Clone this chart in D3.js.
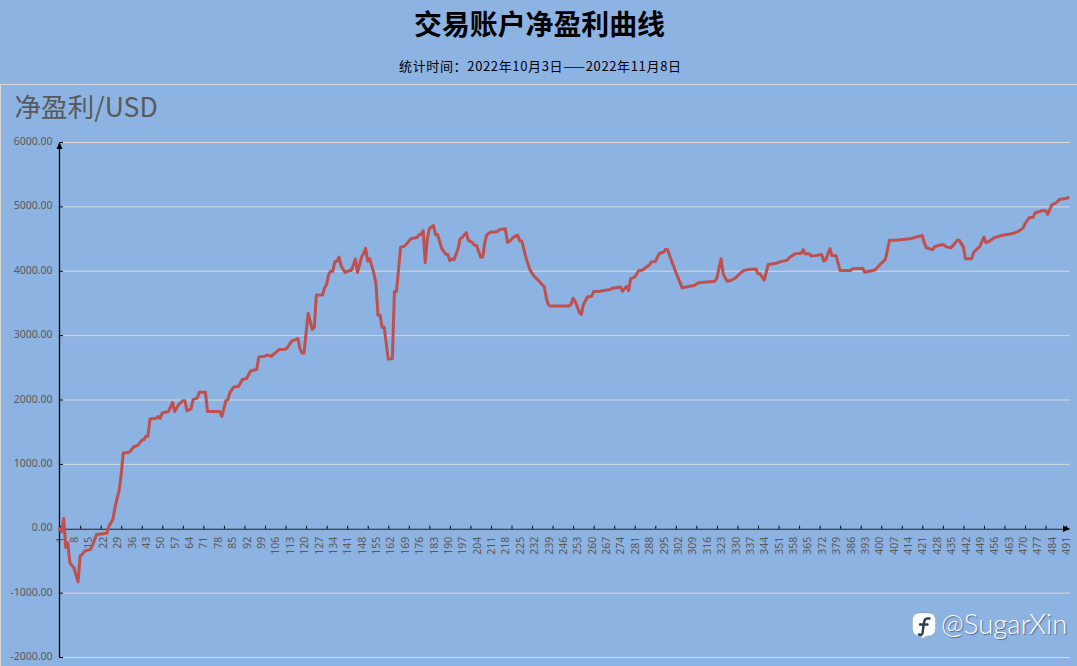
<!DOCTYPE html>
<html><head><meta charset="utf-8">
<script src="https://cdnjs.cloudflare.com/ajax/libs/d3/7.8.5/d3.min.js"></script>
<style>
html,body{margin:0;padding:0;background:#8DB3E2;overflow:hidden}
svg{display:block}
text{font-family:"Noto Sans CJK SC","Noto Sans",sans-serif}
</style></head><body>
<svg id="c" width="1077" height="666"></svg>
<script>
const titleText = "交易账户净盈利曲线";
const subtitleText = "统计时间：2022年10月3日——2022年11月8日";
const axisTitle = "净盈利/USD";
const watermark = "@SugarXin";
const yTicks = [-2000,-1000,0,1000,2000,3000,4000,5000,6000];
const tradeIndex = [1,2,3,4,5,6,8,10,11,12,13,16,17,19,24,25,27,28,30,31,32,35,37,39,41,42,43,44,45,48,49,50,51,54,56,57,59,61,62,63,65,66,68,69,72,73,79,80,82,83,84,86,88,90,92,94,97,98,101,102,104,108,111,112,114,117,118,119,120,122,124,125,126,129,130,131,132,133,134,135,136,137,138,140,142,143,145,146,148,149,150,151,152,154,155,156,157,158,159,161,163,164,165,167,169,172,175,176,177,178,179,180,181,183,184,185,187,189,190,191,192,193,195,196,197,199,200,202,203,204,206,207,208,209,211,214,215,218,219,220,222,224,225,226,228,230,232,234,237,238,239,240,249,250,251,252,254,255,256,258,260,261,264,266,269,270,274,275,277,278,279,281,283,285,287,288,289,291,293,295,296,297,298,301,304,306,310,312,320,321,323,324,326,328,330,332,334,337,340,341,342,344,346,350,352,355,357,359,362,363,364,366,367,372,373,374,376,377,379,381,386,387,392,393,398,400,402,403,405,408,415,421,422,423,426,427,431,433,435,438,439,441,442,445,446,449,451,452,453,456,459,465,468,470,471,473,475,476,477,479,481,482,484,486,488,491,492];
const netProfit = [0,-50,160,-290,-220,-530,-610,-825,-420,-400,-350,-320,-260,-90,-70,40,150,340,600,850,1177,1190,1270,1295,1375,1385,1435,1435,1705,1715,1745,1715,1800,1820,1965,1820,1930,1990,1990,1830,1865,2010,2030,2120,2120,1820,1820,1745,1990,2010,2125,2205,2210,2320,2335,2450,2475,2670,2680,2700,2680,2785,2790,2820,2915,2955,2800,2730,2730,3345,3095,3130,3630,3630,3745,3795,3950,4000,4000,4150,4155,4220,4090,3980,4010,4010,4190,3980,4220,4275,4355,4155,4195,3965,3815,3315,3315,3130,3130,2635,2645,3685,3685,4375,4390,4505,4525,4570,4570,4630,4135,4505,4660,4710,4570,4570,4355,4265,4260,4165,4190,4180,4355,4505,4525,4600,4480,4445,4405,4400,4220,4220,4450,4570,4610,4615,4645,4660,4450,4465,4530,4560,4470,4470,4215,4020,3925,3860,3755,3575,3475,3460,3460,3485,3580,3535,3365,3330,3485,3600,3610,3685,3690,3700,3715,3735,3755,3690,3765,3700,3885,3910,4010,4020,4075,4090,4145,4150,4280,4295,4340,4335,4240,3985,3745,3755,3780,3820,3845,3900,4195,3960,3845,3860,3895,3960,4010,4030,4035,3960,3960,3860,4105,4125,4150,4170,4230,4270,4280,4335,4270,4270,4235,4260,4160,4180,4350,4245,4240,4010,4010,4040,4045,3985,4020,4090,4155,4180,4480,4480,4505,4555,4435,4365,4335,4385,4415,4375,4365,4480,4480,4375,4195,4195,4295,4385,4530,4445,4455,4520,4550,4585,4625,4670,4740,4830,4840,4910,4915,4940,4945,4885,5030,5060,5120,5130,5145];
const labelEvery = 7, tickEvery = 10, lastLabel = 491, lastIndex = 492.4;

const svg = d3.select("#c");
const x = d3.scaleLinear().domain([1,lastIndex]).range([59.6,1069]);
const y = d3.scaleLinear().domain([-2000,6000]).range([657.5,142.5]);

svg.append("rect").attr("width",1077).attr("height",666).attr("fill","#8DB3E2");
svg.append("path").attr("d","M0.5,666V84.5H1077").attr("fill","none").attr("stroke","#d9d9d9").attr("stroke-width",1);

svg.append("text").attr("x",539.5).attr("y",35).attr("text-anchor","middle")
  .attr("font-size",27.9).attr("font-weight",700).attr("fill","#000").text(titleText);
svg.append("text").attr("x",399).attr("y",70.5)
  .attr("font-size",13).attr("textLength",282).attr("lengthAdjust","spacing").attr("fill","#000").text(subtitleText);
svg.append("text").attr("x",14.5).attr("y",116.5).attr("font-size",26.6).attr("fill","#595959").text(axisTitle);

// grid
svg.append("g").selectAll("line").data(yTicks.filter(d=>d!==0)).join("line")
  .attr("x1",60).attr("x2",1070).attr("y1",d=>y(d)).attr("y2",d=>y(d))
  .attr("stroke","#d9d9d9").attr("stroke-width",1);

// y axis labels
const yAxis = svg.append("g").attr("transform","translate(52.5,0)")
  .call(d3.axisLeft(y).tickValues(yTicks).tickSize(0).tickPadding(0).tickFormat(d=>d.toFixed(2)));
yAxis.select(".domain").remove();
yAxis.selectAll("text").attr("font-size",10.5).attr("fill","#595959").attr("dy","0.2em")
  .style("font-family","'Noto Sans',sans-serif");

// y ticks
svg.append("g").selectAll("line").data(yTicks).join("line")
  .attr("x1",59.5).attr("x2",63).attr("y1",d=>y(d)).attr("y2",d=>y(d)).attr("stroke","#000");

// x labels
const labelVals = d3.range(1,lastLabel+1,labelEvery);
const xLabels = svg.append("g").attr("transform",`translate(0,${y(0)})`)
  .call(d3.axisBottom(x).tickValues(labelVals).tickSize(0).tickPadding(0).tickFormat(d3.format("d")));
xLabels.select(".domain").remove();
xLabels.selectAll("text").attr("font-size",10.5).attr("fill","#595959")
  .attr("text-anchor","end").attr("dy",0)
  .attr("transform",function(d){return `translate(3.6,8) rotate(-90)`;})
  .attr("y",0).style("font-family","'Noto Sans',sans-serif");

// x axis
const xTickVals = d3.range(1,lastIndex,tickEvery);
const xTicks = svg.append("g").attr("transform",`translate(0,${y(0)})`)
  .call(d3.axisTop(x).tickValues(xTickVals).tickSize(3).tickSizeOuter(0).tickFormat(""));
xTicks.selectAll("line").attr("stroke","#000");
xTicks.select(".domain").attr("stroke","#262626").attr("stroke-width",1.2);

// y axis line
svg.append("line").attr("x1",59.5).attr("x2",59.5).attr("y1",657.5).attr("y2",146).attr("stroke","#000").attr("stroke-width",1.3);
svg.append("path").attr("d",d3.line()([[59.5,142],[56.5,149],[62.5,149]])+"Z").attr("fill","#000");
svg.append("path").attr("d",d3.line()([[1070,y(0)],[1063,y(0)-3.3],[1063,y(0)+3.3]])+"Z").attr("fill","#000");

// series
const pts = tradeIndex.map((d,i)=>[d,netProfit[i]]);
svg.append("path").datum(pts)
  .attr("d",d3.line().x(d=>x(d[0])).y(d=>y(d[1])))
  .attr("fill","none").attr("stroke","#C0504D").attr("stroke-width",3).attr("stroke-linejoin","round").attr("stroke-linecap","round");

// watermark
const wm = svg.append("g").attr("transform","translate(912.5,613)");
wm.append("path").attr("d","M7,0H16Q23,0 23,8V15Q23,23 15,23H14L9,26V23H7Q0,23 0,15V8Q0,0 7,0Z")
  .attr("fill","#fff").attr("stroke","#3a4a5a").attr("stroke-opacity",0.35).attr("stroke-width",0.5);
wm.append("path").attr("d","M17,5.5Q12,4.5 11.5,9.5L10,20Q9.5,22.5 6.5,21.5M7.5,11.5H15")
  .attr("fill","none").attr("stroke","#2d3b4d").attr("stroke-width",2.4).attr("stroke-linecap","round");
svg.append("text").attr("x",941).attr("y",634).attr("font-size",27.5).attr("font-weight",300)
  .attr("fill","#fff").style("font-family","Lato,Roboto,sans-serif")
  .style("text-shadow","1px 1px 1px rgba(30,40,60,.55)").text(watermark);
</script>
</body></html>
